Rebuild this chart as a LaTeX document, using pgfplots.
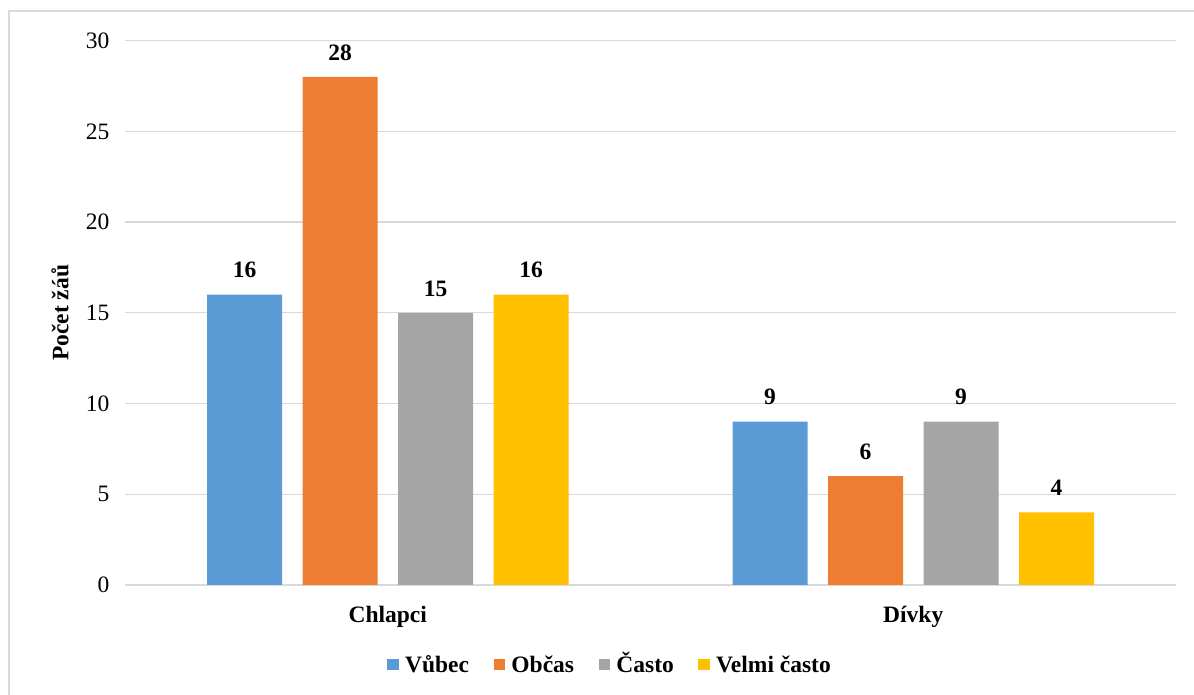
\documentclass[border=0pt]{standalone}
\usepackage{fontspec}
\setmainfont{Liberation Serif}
\usepackage{pgfplots}
\pgfplotsset{compat=1.18}

\definecolor{cBlue}{HTML}{5B9BD5}
\definecolor{cOrange}{HTML}{ED7D31}
\definecolor{cGray}{HTML}{A5A5A5}
\definecolor{cYellow}{HTML}{FFC000}
\definecolor{gridc}{HTML}{D9D9D9}

\newcommand{\chartfont}{\fontsize{23.5}{27}\selectfont}

\begin{document}
\begin{tikzpicture}[x=1pt,y=1pt]
\useasboundingbox (0,0) rectangle (1194,695);
% chart frame
\draw[gridc, line width=1.3pt] (9,-5) -- (9,684) -- (1200,684);
\begin{axis}[
  at={(125pt,110pt)}, anchor=south west,
  scale only axis, width=1051pt, height=544.3pt,
  ybar=20.5pt, bar width=75pt,
  xmin=-0.5, xmax=1.5, ymin=0, ymax=30,
  xtick={0,1}, xticklabels={Chlapci,Dívky},
  ytick={0,5,...,30},
  ymajorgrids, grid style={gridc, line width=1.3pt},
  axis line style={draw=none},
  tick style={draw=none},
  /pgf/number format/assume math mode=true,
  yticklabel style={font=\chartfont, xshift=-12pt},
  xticklabel style={font=\bfseries\chartfont, yshift=-13pt},
  ylabel={Počet žáů},
  ylabel style={font=\bfseries\chartfont, at={(axis description cs:-0.0618,0.5)}, anchor=center},
  nodes near coords,
  nodes near coords style={font=\bfseries\chartfont, text=black, yshift=13pt},
  legend columns=4,
  legend style={draw=none, fill=none, font=\bfseries\chartfont,
    at={(axis description cs:0.462,-0.146)}, anchor=center,
    nodes={inner sep=3pt, text height=16pt, text depth=0.5pt},
    /tikz/every odd column/.append style={column sep=3.5pt},
    /tikz/every even column/.append style={column sep=21.5pt}},
  legend image code/.code={\fill[#1] (0pt,-5.65pt) rectangle (11.3pt,5.65pt);},
]
\addplot[fill=cBlue, draw=none] coordinates {(0,16) (1,9)};
\addplot[fill=cOrange, draw=none] coordinates {(0,28) (1,6)};
\addplot[fill=cGray, draw=none] coordinates {(0,15) (1,9)};
\addplot[fill=cYellow, draw=none] coordinates {(0,16) (1,4)};
\legend{Vůbec, Občas, Často, Velmi často}
\end{axis}
\end{tikzpicture}
\end{document}
